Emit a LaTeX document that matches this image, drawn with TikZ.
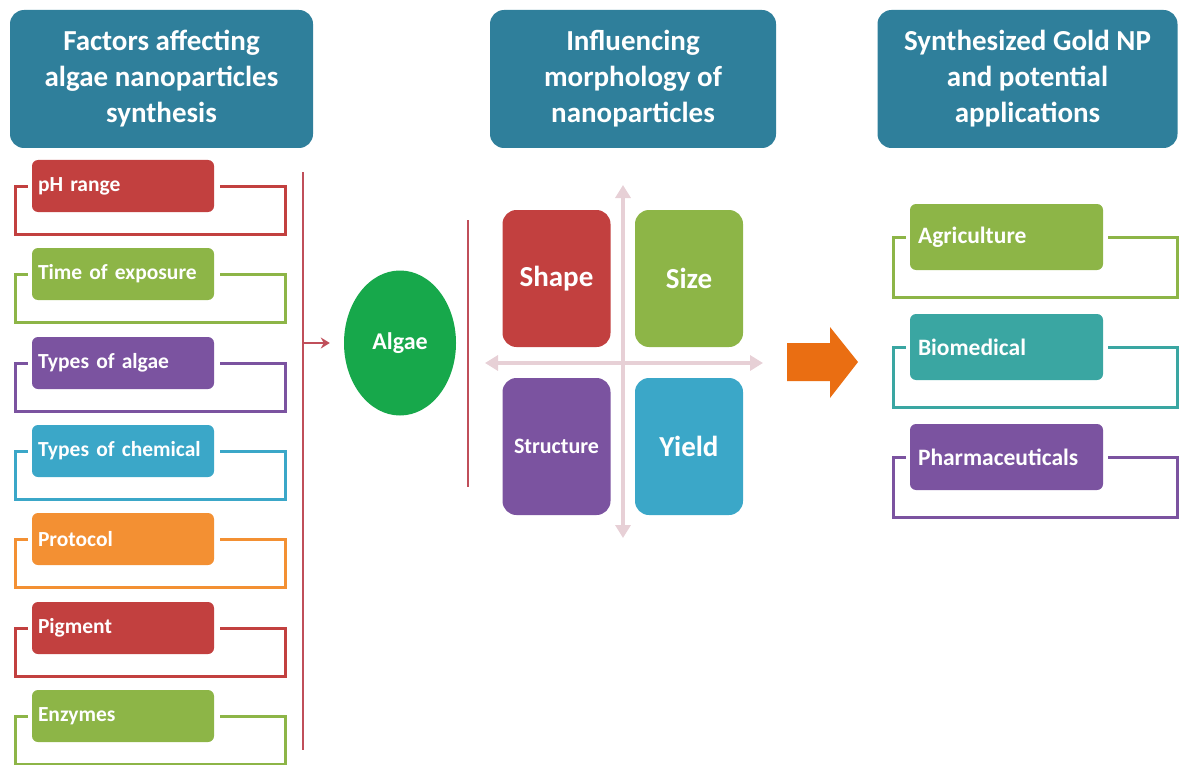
\documentclass[tikz,border=0pt]{standalone}
\usepackage{fontspec}
\setmainfont{Carlito}
\usetikzlibrary{calc,arrows.meta,shapes.geometric}
\definecolor{hdr}{HTML}{2F7F9B}
\definecolor{cred}{HTML}{C2403F}
\definecolor{cgreen}{HTML}{8DB547}
\definecolor{cpurple}{HTML}{7B53A0}
\definecolor{ccyan}{HTML}{3BA7C8}
\definecolor{corange}{HTML}{F39033}
\definecolor{cteal}{HTML}{3AA6A2}
\definecolor{calgae}{HTML}{17A84B}
\definecolor{ccross}{HTML}{E7D0D6}
\definecolor{carrow}{HTML}{EA6E12}
\definecolor{cline}{HTML}{C04F5A}
\tikzset{
  header/.style={fill=hdr, rounded corners=14, minimum width=#1, minimum height=138, text=white, align=center, font=\bfseries\fontsize{29}{36}\selectfont, inner sep=0},
  item/.style={fill=#1, rounded corners=6, minimum height=52, text width=170, align=left, inner xsep=6, inner ysep=0, text=white, font=\bfseries\fontsize{21.5}{24}\selectfont},
  ritem/.style={fill=#1, rounded corners=6, minimum height=66, text width=177, align=left, inner xsep=8, inner ysep=0, text=white, font=\bfseries\fontsize{23.5}{26}\selectfont},
  quad/.style={fill=#1, rounded corners=14, minimum width=108, minimum height=137, inner sep=0, text=white, font=\bfseries\fontsize{29}{32}\selectfont},
  brk/.style={draw=#1, line width=3},
  vline/.style={draw=cline, line width=2.8},
  cross/.style={draw=ccross, line width=4, {Triangle[length=13,width=15]}-{Triangle[length=13,width=15]}},
}
\begin{document}
\begin{tikzpicture}[x=1pt,y=-1pt]
\useasboundingbox (0,0) rectangle (1186,765);
% headers
\node[header=303] (h1) at (161.5,79) {Factors affecting\\algae nanoparticles\\synthesis};
\node[header=286] (h2) at (633,79) {Influencing\\morphology of\\nanoparticles};
\node[header=300] (h3) at (1027.5,79) {Synthesized Gold NP\\and potential\\applications};
% left items
\foreach \n/\y/\c/\t in {1/186/cred/pH range, 2/274/cgreen/Time of exposure, 3/363/cpurple/Types of algae, 4/451/ccyan/Types of chemical, 5/539/corange/Protocol, 6/628/cred/Pigment, 7/716/cgreen/Enzymes}{
  \node[item=\c] (f\n) at (123,\y) {\t};
  \draw[brk=\c] ($(f\n.east)+(6,0)$) -- ++(65,0) -- ++(0,48) -| ($(f\n.west)+(-16,0)$) -- ++(12,0);
}
% vertical line and arrow
\coordinate (v1t) at (303,172);
\coordinate (v1b) at (303,750);
\draw[vline] (v1t) -- (v1b);
\node[ellipse, fill=calgae, minimum width=112, minimum height=145, inner sep=0, text=white, font=\bfseries\fontsize{24}{27}\selectfont] (algae) at (400,343) {Algae};
\coordinate (v1m) at (303,343);
\draw[vline, -{Stealth[length=9,width=11]}] (v1m) -- ($(algae.west)+(-14,0)$);
\coordinate (v2t) at (468,220);
\coordinate (v2b) at (468,487);
\draw[vline] (v2t) -- (v2b);
% cross
\coordinate (cl) at (485,363);
\coordinate (cr) at (763,363);
\coordinate (ct) at (623,185);
\coordinate (cb) at (623,538);
\draw[cross] (cl) -- (cr);
\draw[cross] (ct) -- (cb);
% quadrants
\node[quad=cred] (shape) at (556.5,278.5) {Shape};
\node[quad=cgreen] (size) at (689,278.5) {Size};
\node[quad=cpurple, font=\bfseries\fontsize{22}{26}\selectfont] (struct) at (556.5,446.5) {Structure};
\node[quad=ccyan] (yield) at (689,446.5) {Yield};
% orange arrow
\fill[carrow] (787,343) -- (830,343) -- (830,327) -- (858,362) -- (830,398) -- (830,381) -- (787,381) -- cycle;
% right items
\foreach \n/\y/\c/\t in {1/237/cgreen/Agriculture, 2/347/cteal/Biomedical, 3/457/cpurple/Pharmaceuticals}{
  \node[ritem=\c] (a\n) at (1006.5,\y) {\t};
  \draw[brk=\c] ($(a\n.east)+(5,0)$) -- ++(69,0) -- ++(0,60) -| ($(a\n.west)+(-16,0)$) -- ++(12,0);
}
\end{tikzpicture}
\end{document}
